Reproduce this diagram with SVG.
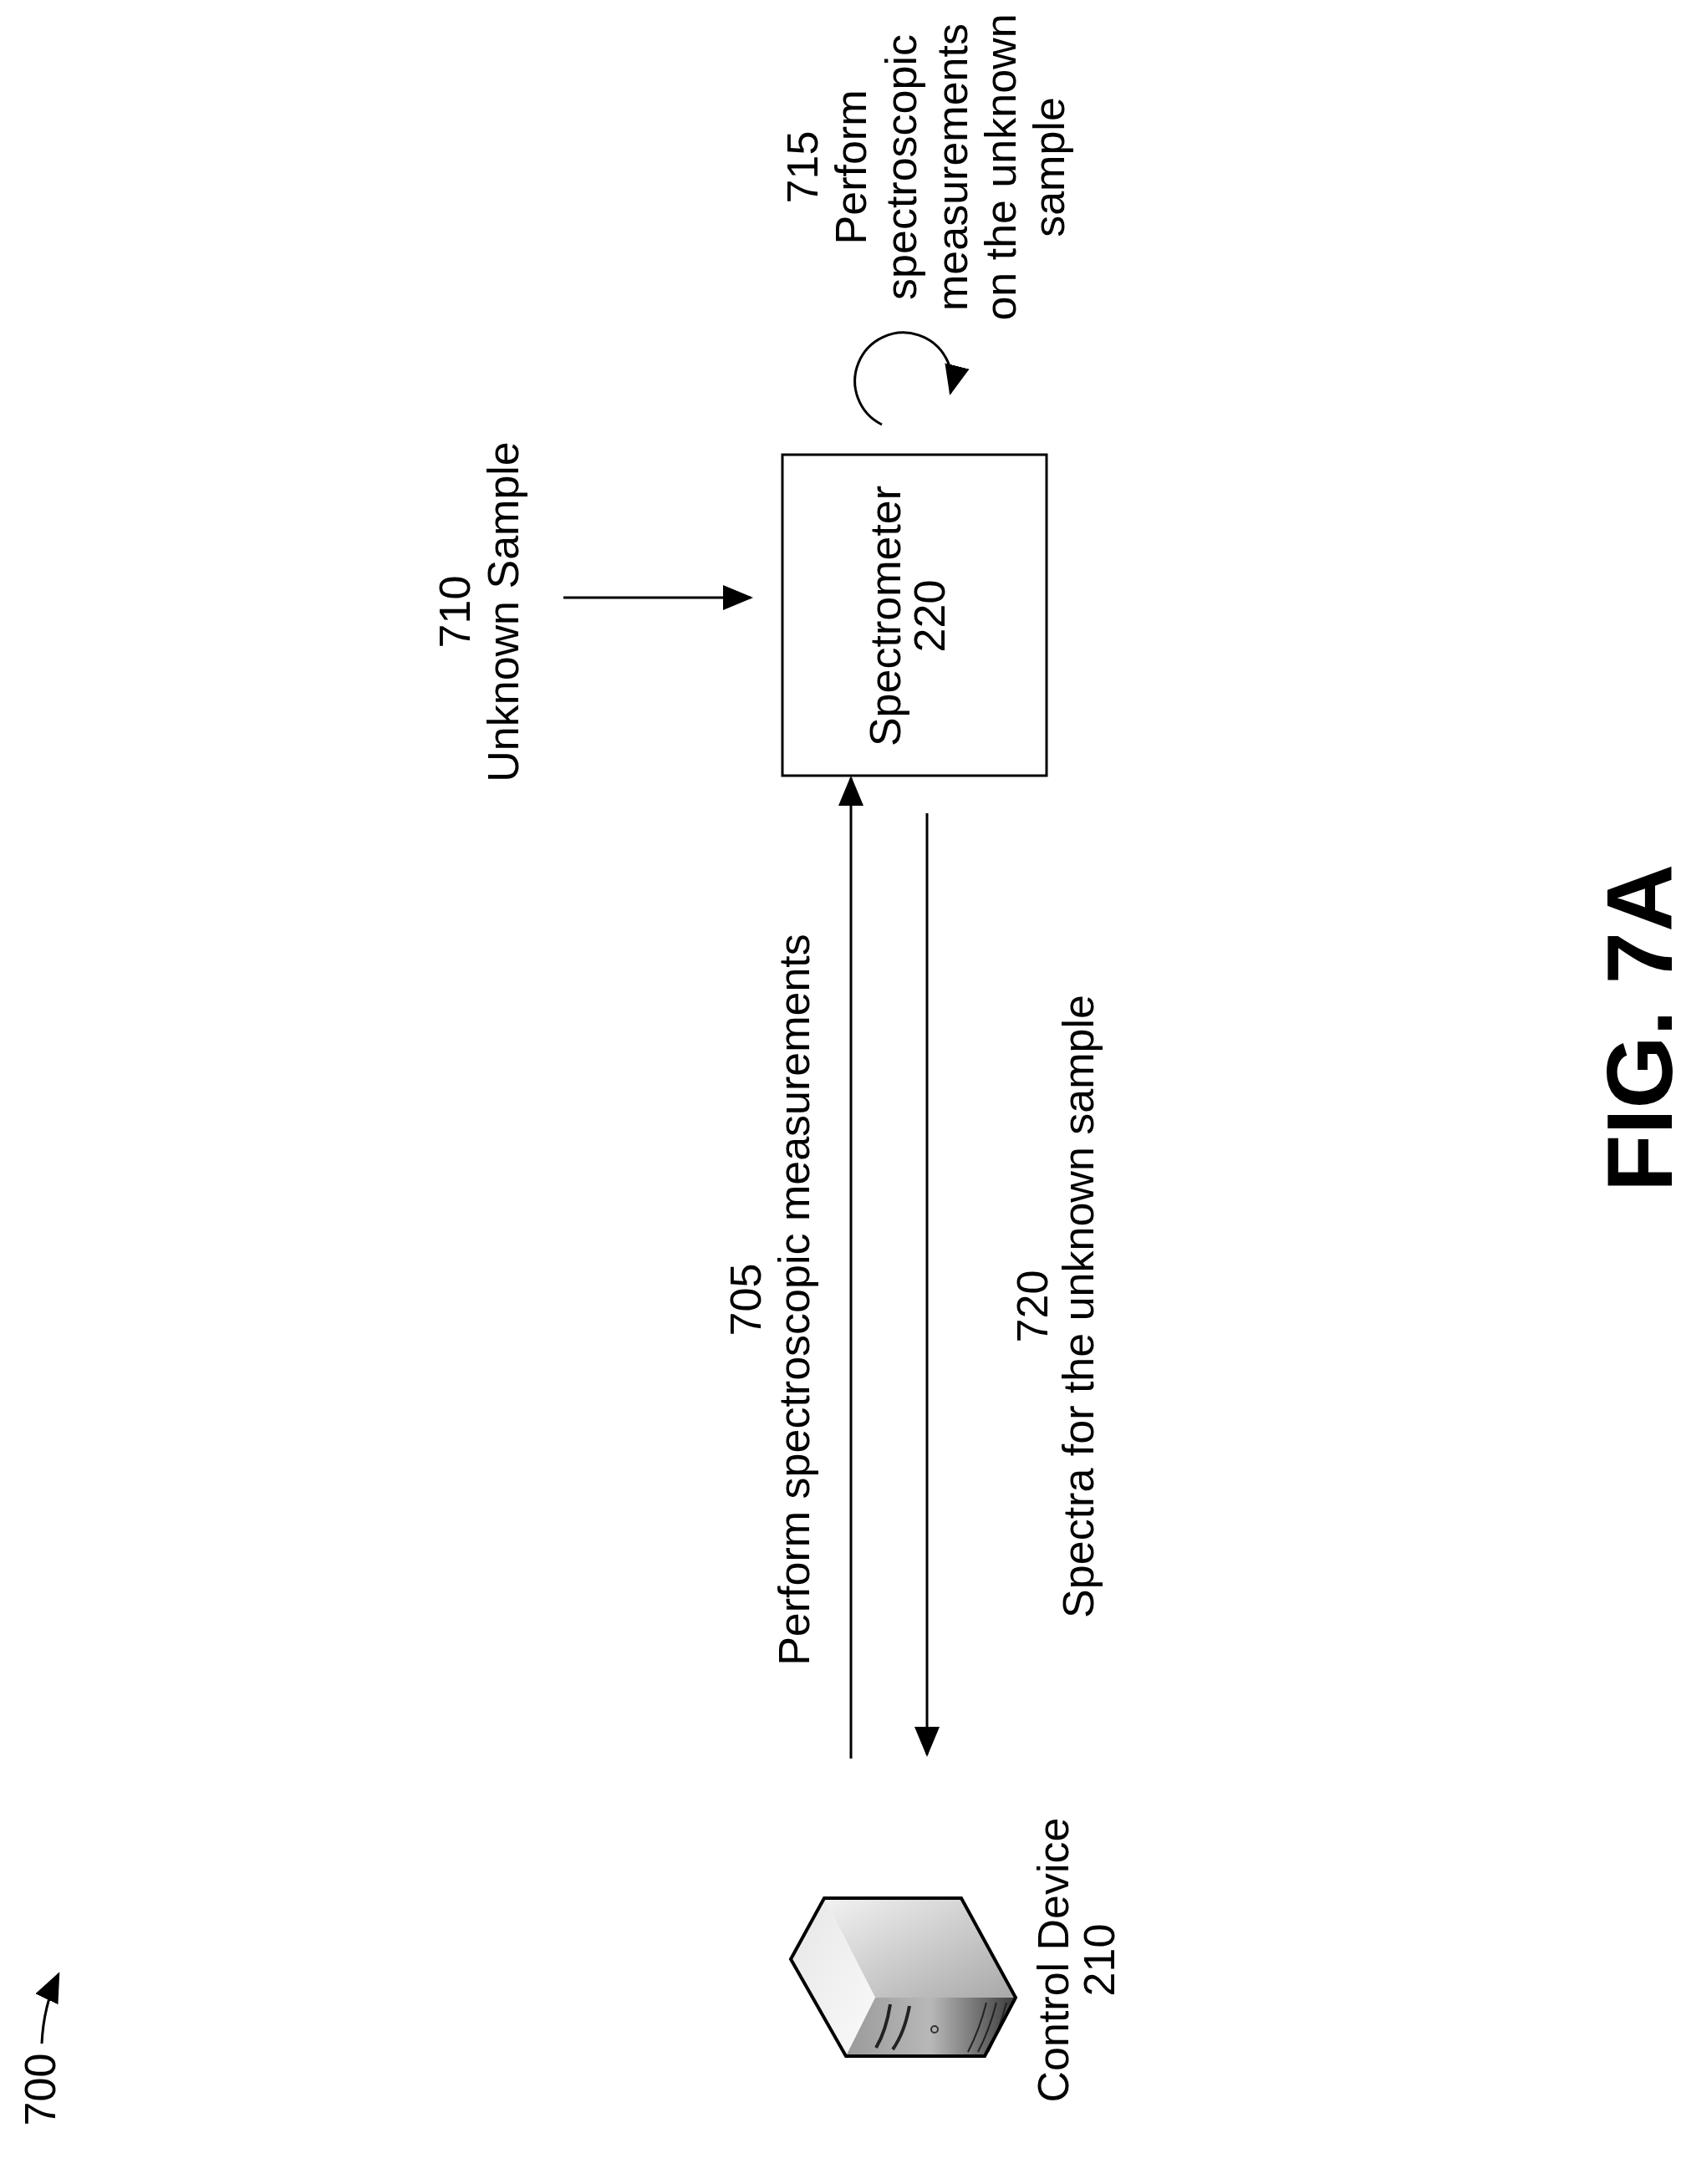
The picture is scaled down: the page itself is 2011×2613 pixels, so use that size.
<svg xmlns="http://www.w3.org/2000/svg" width="2011" height="2613" viewBox="0 0 2011 2613">
<style>
text{font-family:"Liberation Sans",Arial,sans-serif;font-size:52px;fill:#000;text-anchor:middle}
.ln{stroke:#000;stroke-width:3;fill:none}
</style>
<defs>
<marker id="ahb" viewBox="0 0 12 10" refX="11" refY="5" markerWidth="36" markerHeight="30" orient="auto" markerUnits="userSpaceOnUse"><path d="M0,0 L12,5 L0,10 z" fill="#000"/></marker>
<linearGradient id="topg" x1="0" y1="0" x2="1" y2="1"><stop offset="0" stop-color="#f2f2f2"/><stop offset="1" stop-color="#a8a8a8"/></linearGradient>
<linearGradient id="leftg" x1="0" y1="0" x2="1" y2="1"><stop offset="0" stop-color="#e6e6e6"/><stop offset="1" stop-color="#fafafa"/></linearGradient>
<linearGradient id="frontg" x1="0" y1="0" x2="1" y2="0"><stop offset="0" stop-color="#9a9a9a"/><stop offset="0.5" stop-color="#b8b8b8"/><stop offset="1" stop-color="#3a3a3a"/></linearGradient>
</defs>
<g id="connectors">
<line class="ln" x1="674" y1="715" x2="898" y2="715" marker-end="url(#ahb)"/>
<line class="ln" x1="1018" y1="2104" x2="1018" y2="931" marker-end="url(#ahb)"/>
<line class="ln" x1="1109" y1="973" x2="1109" y2="2099" marker-end="url(#ahb)"/>
<path class="ln" d="M1055,508 A58,58 0 1 1 1137,470" marker-end="url(#ahb)"/>
<path class="ln" d="M50,2445 Q52,2400 70,2362" marker-end="url(#ahb)"/>
</g>
<g id="spectrometer">
<rect x="936" y="544" width="316" height="384" class="ln"/>
<text transform="translate(1077,737) rotate(-90)">Spectrometer</text>
<text transform="translate(1130,737) rotate(-90)">220</text>
</g>
<g id="unknown-sample">
<text transform="translate(562,732) rotate(-90)">710</text>
<text transform="translate(620,732) rotate(-90)">Unknown Sample</text>
</g>
<g id="label-715">
<text transform="translate(978,200) rotate(-90)">715</text>
<text transform="translate(1036,200) rotate(-90)">Perform</text>
<text transform="translate(1096,200) rotate(-90)">spectroscopic</text>
<text transform="translate(1157,200) rotate(-90)">measurements</text>
<text transform="translate(1215,200) rotate(-90)">on the unknown</text>
<text transform="translate(1273,200) rotate(-90)">sample</text>
</g>
<g id="label-705">
<text transform="translate(910,1555) rotate(-90)">705</text>
<text transform="translate(968,1555) rotate(-90)">Perform spectroscopic measurements</text>
</g>
<g id="label-720">
<text transform="translate(1253,1563) rotate(-90)">720</text>
<text transform="translate(1308,1563) rotate(-90)">Spectra for the unknown sample</text>
</g>
<g id="control-device">
<polygon points="986,2271 1150,2271 1215,2390 1047,2390" fill="url(#topg)"/>
<polygon points="946,2344 986,2271 1047,2390 1012,2460" fill="url(#leftg)"/>
<polygon points="1047,2390 1215,2390 1178,2460 1012,2460" fill="url(#frontg)"/>
<path d="M1065,2398 Q1060,2430 1048,2450 M1088,2400 Q1082,2432 1068,2452" stroke="#222" stroke-width="4" fill="none"/>
<circle cx="1118" cy="2428" r="4" fill="none" stroke="#333" stroke-width="2"/>
<path d="M1180,2396 Q1172,2428 1158,2455 M1192,2396 Q1184,2428 1170,2455 M1204,2396 Q1196,2428 1182,2455" stroke="#222" stroke-width="2" fill="none"/>
<polygon points="946,2344 986,2271 1150,2271 1215,2390 1178,2460 1012,2460" fill="none" stroke="#000" stroke-width="4"/>
<text transform="translate(1278,2345) rotate(-90)">Control Device</text>
<text transform="translate(1333,2345) rotate(-90)">210</text>
</g>
<g id="ref-700">
<text transform="translate(66,2500) rotate(-90)">700</text>
</g>
<g id="fig-label">
<text transform="translate(2000,1230) rotate(-90)" style="font-size:112px;font-weight:bold">FIG. 7A</text>
</g>
</svg>
